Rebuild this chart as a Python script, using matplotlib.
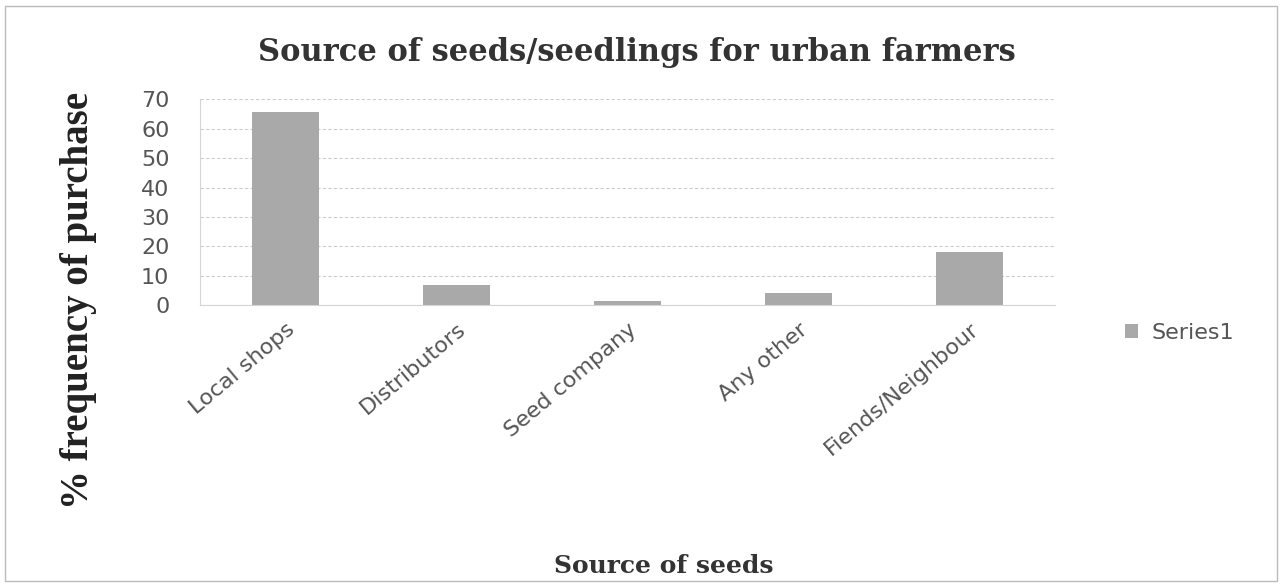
import matplotlib
matplotlib.use("Agg")
import matplotlib.pyplot as plt
from matplotlib.patches import Rectangle

# data
sources = ["Local shops", "Distributors", "Seed company", "Any other", "Fiends/Neighbour"]
percent = [65.5, 7.0, 1.5, 4.0, 18.0]
yticks = [0, 10, 20, 30, 40, 50, 60, 70]

fig = plt.figure(figsize=(12.82, 5.87), dpi=100)
ax = fig.add_axes([0.156, 0.480, 0.667, 0.351])

x = range(len(sources))
ax.bar(x, percent, width=0.39, color="#a9a9a9", label="Series1", zorder=2)

ax.set_xlim(-0.5, len(sources) - 0.5)
ax.set_ylim(0, 70)
ax.set_yticks(yticks)
ax.set_yticklabels([str(t) for t in yticks], fontsize=16, color="#555555", family="DejaVu Sans")
ax.set_xticks(list(x))
ax.set_xticklabels(sources, rotation=40, ha="right", rotation_mode="anchor",
                   fontsize=16, color="#555555", family="DejaVu Sans")
ax.tick_params(axis="y", length=0, pad=22)
ax.tick_params(axis="x", length=0, pad=10)
ax.grid(axis="y", color="#cccccc", linestyle=(0, (3, 2)), linewidth=0.8, zorder=0)
for s in ["top", "right"]:
    ax.spines[s].set_visible(False)
ax.spines["left"].set_color("#d5d5d5")
ax.spines["bottom"].set_color("#d5d5d5")

fig.text(0.497, 0.911, "Source of seeds/seedlings for urban farmers", ha="center", va="center",
         fontsize=22, fontweight="bold", family="DejaVu Serif", color="#333333")
fig.text(0.518, 0.035, "Source of seeds", ha="center", va="center",
         fontsize=18, fontweight="bold", family="DejaVu Serif", color="#333333")
fig.text(0.061, 0.488, "% frequency of purchase", ha="center", va="center", rotation=90,
         fontsize=28, fontweight="bold", family="Liberation Serif", color="#222222")

fig.legend(loc="center left", bbox_to_anchor=(0.862, 0.433), frameon=False,
           prop={"family": "DejaVu Sans", "size": 16}, labelcolor="#555555",
           handlelength=0.6, handleheight=0.6, handletextpad=0.6)

fig.patches.append(Rectangle((0.004, 0.01), 0.992, 0.98, transform=fig.transFigure,
                             fill=False, edgecolor="#bbbbbb", linewidth=1))

fig.savefig("out.png", dpi=100)
